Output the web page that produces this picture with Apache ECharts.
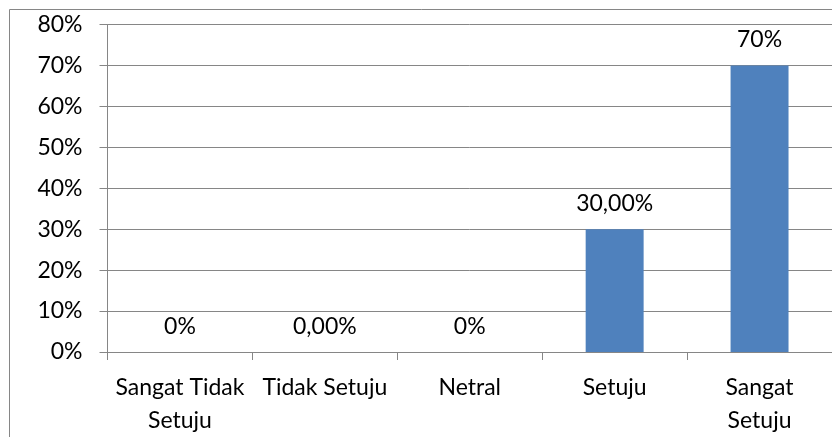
<!DOCTYPE html>
<html>
<head>
<meta charset="utf-8">
<script src="https://cdn.jsdelivr.net/npm/echarts@6/dist/echarts.min.js"></script>
<style>html,body{margin:0;padding:0;background:#fff}#c{width:832px;height:437px}</style>
</head>
<body>
<div id="c"></div>
<script>
var categories = ["Sangat Tidak Setuju", "Tidak Setuju", "Netral", "Setuju", "Sangat Setuju"];
var categoryLabels = ["Sangat Tidak\nSetuju", "Tidak Setuju", "Netral", "Setuju", "Sangat\nSetuju"];
var values = [0, 0, 0, 30, 70];
var valueLabels = ["0%", "0,00%", "0%", "30,00%", "70%"];
var yTicks = [0, 10, 20, 30, 40, 50, 60, 70, 80];

var FONT = "Lato";
var chart = echarts.init(document.getElementById('c'), null, {renderer: 'canvas'});
chart.setOption({
  animation: false,
  backgroundColor: '#fff',
  graphic: [{
    type: 'rect', silent: true,
    shape: {x: 9.5, y: 9.5, width: 900, height: 500},
    style: {fill: 'none', stroke: '#868686', lineWidth: 1}
  }],
  grid: {left: 107.5, right: -2, top: 24.5, bottom: 85, containLabel: false},
  xAxis: {
    type: 'category',
    data: categories,
    axisLine: {lineStyle: {color: '#868686', width: 1}},
    axisTick: {show: true, length: 8, lineStyle: {color: '#868686'}},
    axisLabel: {
      color: '#000', fontFamily: FONT, fontSize: 23, lineHeight: 33, margin: 19,
      interval: 0,
      formatter: function (v, i) { return categoryLabels[i]; }
    }
  },
  yAxis: {
    type: 'value',
    min: yTicks[0], max: yTicks[yTicks.length - 1], interval: 10,
    axisLine: {show: true, lineStyle: {color: '#868686', width: 1}},
    axisTick: {show: true, length: 8, lineStyle: {color: '#868686'}},
    splitLine: {show: true, lineStyle: {color: '#868686', width: 1}},
    axisLabel: {
      color: '#000', fontFamily: FONT, fontSize: 23, margin: 25,
      formatter: function (v) { return v + '%'; }
    }
  },
  series: [{
    type: 'bar',
    data: values,
    barWidth: '40%',
    itemStyle: {color: '#4F81BD'},
    label: {
      show: true, position: 'top', distance: 14,
      color: '#000', fontFamily: FONT, fontSize: 23,
      formatter: function (p) { return valueLabels[p.dataIndex]; }
    }
  }]
});
</script>
</body>
</html>
